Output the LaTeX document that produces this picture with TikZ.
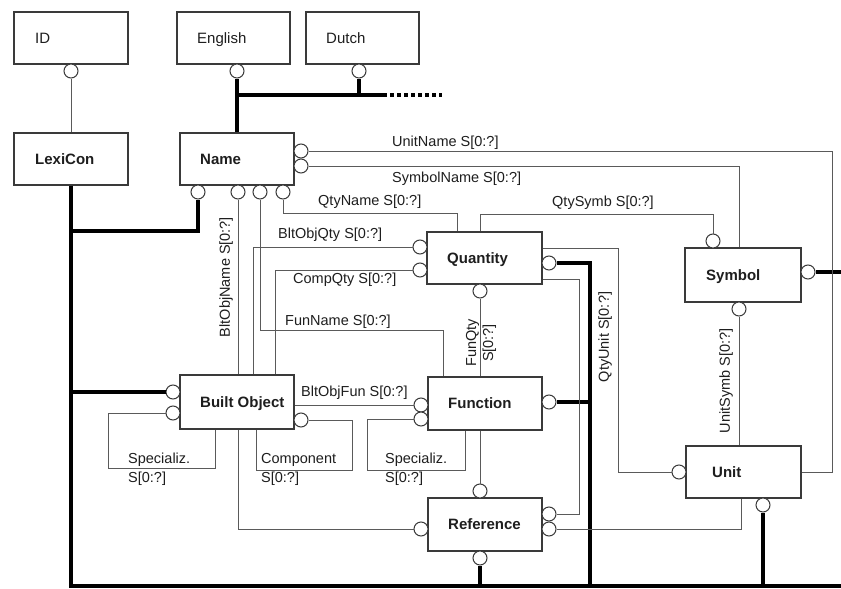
\documentclass[tikz,border=0pt]{standalone}
\usepackage{fontspec}
\setmainfont{Liberation Sans}
\definecolor{relgray}{HTML}{5A5A5A}
\definecolor{boxgray}{HTML}{3A3A3A}
\definecolor{txt}{HTML}{1E1E1E}
\begin{document}
\begin{tikzpicture}[x=1pt,y=-1pt,
  ebox/.style={draw=boxgray, line width=1.2pt, fill=white, minimum width=114pt, minimum height=52pt, inner sep=0pt},
  etext/.style={anchor=west, inner sep=0pt, text height=10.8pt, text depth=0pt, text=txt, font=\fontsize{15}{17}\selectfont\bfseries},
  ptext/.style={anchor=west, inner sep=0pt, text height=10.8pt, text depth=0pt, text=txt, font=\fontsize{15}{17}\selectfont},
  port/.style={circle, draw=boxgray, line width=1pt, fill=white, minimum size=14pt, inner sep=0pt},
  lab/.style={inner sep=0pt, text=txt, font=\fontsize{14.5}{19}\selectfont},
  rel/.style={draw=relgray, line width=1pt},
  heavy/.style={draw=black, line width=3.5pt},
  dotline/.style={draw=black, line width=3.5pt, dash pattern=on 4pt off 3pt}
]
\useasboundingbox[fill=white] (0,0) rectangle (841,589);

% ---------- entity boxes ----------
\node[ebox] (id) at (71,38) {};
\node[ptext] (idt) at (35,38) {ID};
\node[ebox, minimum width=113pt] (english) at (233.5,38) {};
\node[ptext] (englisht) at (197,38) {English};
\node[ebox, minimum width=113pt] (dutch) at (362.5,38) {};
\node[ptext] (dutcht) at (326,38) {Dutch};
\node[ebox] (lexicon) at (71,159) {};
\node[etext] (lexicont) at (35,159) {LexiCon};
\node[ebox] (name) at (237,159) {};
\node[etext] (namet) at (200,159) {Name};
\node[ebox, minimum width=115pt] (quantity) at (484.5,258) {};
\node[etext] (quantityt) at (447,258) {Quantity};
\node[ebox, minimum width=116pt, minimum height=54pt] (symbol) at (743,275) {};
\node[etext] (symbolt) at (706,275) {Symbol};
\node[ebox, minimum height=54pt] (builtobj) at (237,402) {};
\node[etext] (builtobjt) at (200,402) {Built Object};
\node[ebox, minimum height=53pt] (function) at (485,403.5) {};
\node[etext] (functiont) at (448,403.5) {Function};
\node[ebox, minimum width=115pt] (unit) at (743.5,472) {};
\node[etext] (unitt) at (712,472) {Unit};
\node[ebox, minimum height=53pt] (reference) at (485,524.5) {};
\node[etext] (referencet) at (448,524.5) {Reference};

% ---------- ports ----------
\node[port] (cid) at (71,71) {};
\node[port] (cen) at (237,71) {};
\node[port] (cdu) at (359,71) {};
\node[port] (nr1) at (301,151) {};
\node[port] (nr2) at (301,166) {};
\node[port] (nb1) at (198,192) {};
\node[port] (nb2) at (238,192) {};
\node[port] (nb3) at (260,192) {};
\node[port] (nb4) at (283,192) {};
\node[port] (cql1) at (420,247) {};
\node[port] (cql2) at (420,270) {};
\node[port] (cqr) at (549,263) {};
\node[port] (cqb) at (480,291) {};
\node[port] (cst) at (713,241) {};
\node[port] (csr) at (808,272) {};
\node[port] (csb) at (739,309) {};
\node[port] (cbl1) at (173,392) {};
\node[port] (cbl2) at (173,413) {};
\node[port] (cbr) at (301,420) {};
\node[port] (cfl1) at (421,405) {};
\node[port] (cfl2) at (421,419) {};
\node[port] (cfr) at (549,402) {};
\node[port] (crt) at (480,491) {};
\node[port] (crl) at (421,529) {};
\node[port] (crr1) at (549,514) {};
\node[port] (crr2) at (549,529) {};
\node[port] (crb) at (480,558) {};
\node[port] (cul) at (679,472) {};
\node[port] (cub) at (763,505) {};

% ---------- helper coordinates ----------
\coordinate (j1) at (237,95);
\coordinate (j2) at (383,95);
\coordinate (dotend) at (442,95);
\coordinate (xr) at (832,0);
\coordinate (qnb) at (457,213);
\coordinate (qsb) at (480,214);
\coordinate (bq) at (253,0);
\coordinate (cq) at (275,0);
\coordinate (fnb) at (443,330);
\coordinate (lj) at (71,231);
\coordinate (bl) at (71,586);
\coordinate (br) at (841,586);
\coordinate (sb1) at (108,468);
\coordinate (sb2) at (215,468);
\coordinate (cp1) at (352,470);
\coordinate (cp2) at (256,470);
\coordinate (fs1) at (367,470);
\coordinate (fs2) at (465,470);
\coordinate (brx) at (238,0);
\coordinate (tx) at (590,0);
\coordinate (qu) at (618,248);
\coordinate (qr2) at (579,279);
\coordinate (ru) at (741,0);
\coordinate (re) at (841,272);

% ---------- heavy connectors ----------
\draw[heavy] (cen.south) -- (name.north);
\draw[heavy] (j2) -- (j1);
\draw[heavy] (cdu.south) -- (cdu.south |- j1);
\draw[dotline] (j2) -- (dotend);
\draw[heavy] (nb1.south) |- (lj);
\draw[heavy, line join=miter] (lexicon.south) -- (bl) -- (br);
\draw[heavy] (cbl1.west) -- (cbl1.west -| lexicon.south);
\draw[heavy] (cqr.east) -| (tx |- bl);
\draw[heavy] (cfr.east) -- (cfr.east -| tx);
\draw[heavy] (crb.south) -- (crb.south |- bl);
\draw[heavy] (cub.south) -- (cub.south |- bl);
\draw[heavy] (csr.east) -- (re);

% ---------- thin connectors ----------
\draw[rel] (cid.south) -- (lexicon.north);
\draw[rel] (nr1.east) -| (xr |- unit.east) -- (unit.east);
\draw[rel] (nr2.east) -| ([xshift=-4pt]symbol.north);
\draw[rel] (nb4.south) |- (qnb) -- (qnb |- quantity.north);
\draw[rel] (qsb |- quantity.north) -- (qsb) -| (cst.north);
\draw[rel] (cql1.west) -| (bq |- builtobj.north);
\draw[rel] (cql2.west) -| (cq |- builtobj.north);
\draw[rel] (nb2.south) -- (nb2.south |- builtobj.north);
\draw[rel] (nb3.south) |- (fnb) -- (fnb |- function.north);
\draw[rel] (cbl2.west) -| (sb1) -- (sb2) -- (sb2 |- builtobj.south);
\draw[rel] (cbr.east) -| (cp1) -- (cp2) -- (cp2 |- builtobj.south);
\draw[rel] (cfl1.west -| builtobj.east) -- (cfl1.west);
\draw[rel] (cfl2.west) -| (fs1) -- (fs2) -- (fs2 |- function.south);
\draw[rel] (brx |- builtobj.south) |- (crl.west);
\draw[rel] (cqb.south) -- (cqb.south |- function.north);
\draw[rel] (crt.north |- function.south) -- (crt.north);
\draw[rel] (qu -| quantity.east) -- (qu) |- (cul.west);
\draw[rel] (qr2 -| quantity.east) -- (qr2) |- (crr1.east);
\draw[rel] (crr2.east) -| (ru |- unit.south);
\draw[rel] (csb.south) -- (csb.south |- unit.north);

% ---------- labels ----------
\node[lab, anchor=west] (lunitname) at (392,143) {UnitName S[0:?]};
\node[lab, anchor=west] (lsymbolname) at (392,179) {SymbolName S[0:?]};
\node[lab, anchor=west] (lqtyname) at (318,202) {QtyName S[0:?]};
\node[lab, anchor=west] (lqtysymb) at (552,203) {QtySymb S[0:?]};
\node[lab, anchor=west] (lbltobjqty) at (278,235) {BltObjQty S[0:?]};
\node[lab, anchor=west] (lcompqty) at (293,280) {CompQty S[0:?]};
\node[lab, anchor=west] (lfunname) at (285,322) {FunName S[0:?]};
\node[lab, anchor=west] (lbltobjfun) at (301,393) {BltObjFun S[0:?]};
\node[lab, rotate=90] (lbltobjname) at (226,277) {BltObjName S[0:?]};
\node[lab, rotate=90, align=center, font=\fontsize{14.5}{17}\selectfont] (lfunqty) at (481,343) {FunQty\\S[0:?]};
\node[lab, rotate=90] (lqtyunit) at (605,337) {QtyUnit S[0:?]};
\node[lab, rotate=90] (lunitsymb) at (726,381) {UnitSymb S[0:?]};
\node[lab, anchor=west, align=left] (lspec1) at (128,469) {Specializ.\\S[0:?]};
\node[lab, anchor=west, align=left] (lcomp) at (261,469) {Component\\S[0:?]};
\node[lab, anchor=west, align=left] (lspec2) at (385,469) {Specializ.\\S[0:?]};
\end{tikzpicture}
\end{document}
